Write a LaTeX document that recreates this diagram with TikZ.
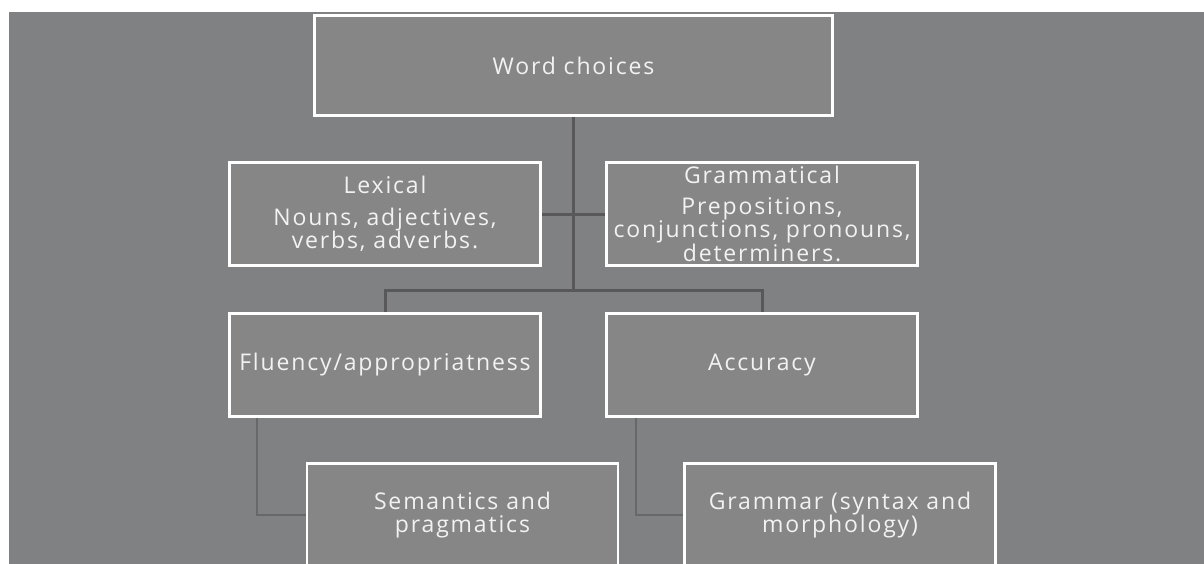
\documentclass[tikz,border=0pt]{standalone}
\usepackage{fontspec}
\setmainfont{Open Sans}[LetterSpace=8]
\definecolor{bgcol}{RGB}{128,129,131}
\definecolor{boxfill}{RGB}{134,134,135}
\definecolor{txtcol}{RGB}{242,242,242}
\definecolor{connA}{RGB}{88,88,90}
\definecolor{connB}{RGB}{104,104,106}
\tikzset{
  wbox/.style={draw=white, line width=2.6pt, fill=boxfill, text=txtcol, inner sep=0pt,
    align=center, minimum width=311pt, minimum height=103pt,
    font=\fontsize{23}{23.5}\selectfont},
  conn/.style={draw=connA, line width=3pt},
  conn2/.style={draw=connB, line width=2pt},
}
\begin{document}
\begin{tikzpicture}[x=1pt,y=-1pt]
\useasboundingbox (0,0) rectangle (1204,564);
\fill[bgcol] (9,12) rectangle (1204,564);
\begin{scope}
\clip (9,12) rectangle (1204,564);
\node[wbox, minimum width=518pt, minimum height=100pt] (wc) at (573.5,65.5) {Word choices};
\node[wbox] (lex) at (385,214) {Lexical\\[8pt]Nouns, adjectives,\\verbs, adverbs.};
\node[wbox] (gram) at (762,214) {Grammatical\\[7pt]Prepositions,\\conjunctions, pronouns,\\determiners.};
\node[wbox] (flu) at (385,365) {Fluency/appropriatness};
\node[wbox] (acc) at (762,365) {Accuracy};
\node[wbox] (sem) at (462.5,515) {Semantics and\\pragmatics};
\node[wbox] (gmr) at (840,515) {Grammar (syntax and\\morphology)};
\coordinate (j1) at (573.5,290);
\draw[conn] (wc.south) -- (j1);
\draw[conn] (lex.east) -- (gram.west);
\draw[conn] (flu.north) |- (j1) -| (acc.north);
\draw[conn2] ([xshift=29pt]flu.south west) |- (sem.west);
\draw[conn2] ([xshift=31pt]acc.south west) |- (gmr.west);
\end{scope}
\end{tikzpicture}
\end{document}
